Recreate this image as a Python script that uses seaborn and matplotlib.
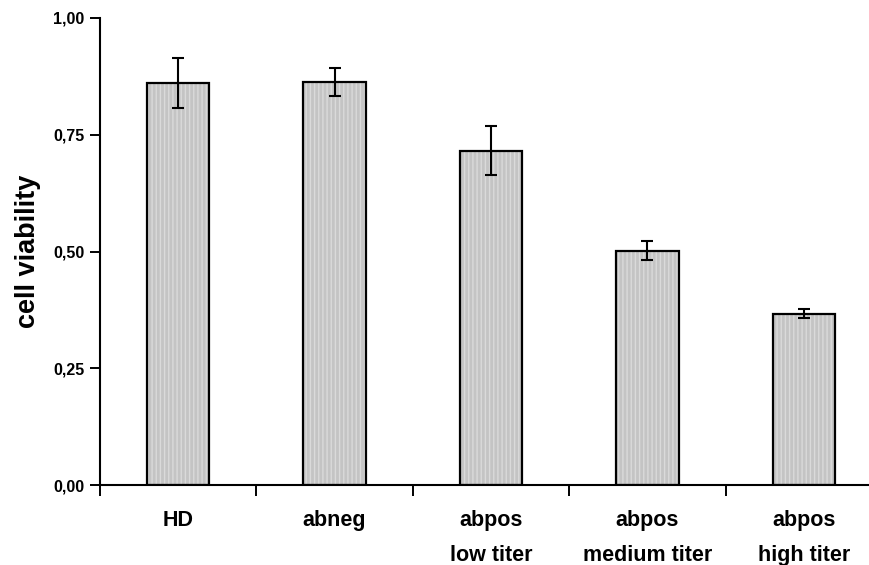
import numpy as np
import pandas as pd
import matplotlib
matplotlib.use('Agg')
import matplotlib.pyplot as plt
import seaborn as sns
from matplotlib.patches import Rectangle
from matplotlib.ticker import FuncFormatter

groups = ['HD', 'abneg', 'abpos\nlow titer', 'abpos\nmedium titer', 'abpos\nhigh titer']
viability = [0.861, 0.863, 0.716, 0.502, 0.367]
err = [0.053, 0.030, 0.053, 0.020, 0.009]

df = pd.DataFrame({'group': groups, 'viability': viability})

sns.set_style('white')
plt.rcParams['font.family'] = ['Liberation Sans', 'DejaVu Sans']
plt.rcParams['font.weight'] = 'bold'
plt.rcParams['text.color'] = 'black'
plt.rcParams['xtick.color'] = 'black'
plt.rcParams['ytick.color'] = 'black'
plt.rcParams['axes.labelcolor'] = 'black'

fig = plt.figure(figsize=(8.7, 5.65), dpi=100)
ax = fig.add_axes([100 / 870, 80 / 565, 782 / 870, 467 / 565])

sns.barplot(data=df, x='group', y='viability', color='#c4c4c4', saturation=1,
            width=0.4, edgecolor='none', linewidth=0, errorbar=None, ax=ax)

# light vertical stipple inside the bars, then the black outline on top
for p in list(ax.patches):
    xy, w, h = p.get_xy(), p.get_width(), p.get_height()
    ax.add_patch(Rectangle(xy, w, h, fill=False, hatch='||||', edgecolor='#dadada',
                           linewidth=0, zorder=2))
    ax.add_patch(Rectangle(xy, w, h, fill=False, edgecolor='black', linewidth=1.6, zorder=3))

ax.errorbar(np.arange(len(groups)), viability, yerr=err, fmt='none', ecolor='black',
            elinewidth=1.5, capsize=4, capthick=1.5, zorder=5)

ax.set_xlim(-0.5, 4.5)
ax.set_ylim(0, 1.0)
ax.set_yticks([0, 0.25, 0.5, 0.75, 1.0])
ax.yaxis.set_major_formatter(FuncFormatter(lambda v, _: f'{v:.2f}'.replace('.', ',')))
ax.set_xticks(np.arange(len(groups)))
ax.set_xticklabels(groups, fontsize=15.5, fontweight='bold', linespacing=1.85, va='top')
ax.set_xticks(np.arange(len(groups) + 1) - 0.5, minor=True)
ax.tick_params(axis='x', which='major', bottom=True, length=0, pad=18)
ax.tick_params(axis='x', which='minor', bottom=True, length=8, width=1.4, direction='out')
ax.tick_params(axis='y', left=True, length=7, width=1.4, direction='out', labelsize=11.5, pad=4)
for lab in ax.get_yticklabels():
    lab.set_fontweight('bold')

for s in ['top', 'right']:
    ax.spines[s].set_visible(False)
for s in ['left', 'bottom']:
    ax.spines[s].set_color('black')
    ax.spines[s].set_linewidth(1.5)

ax.set_xlabel('')
ax.set_ylabel('cell viability', fontsize=19.5, fontweight='bold', labelpad=9)

fig.savefig('out.png', dpi=100)
